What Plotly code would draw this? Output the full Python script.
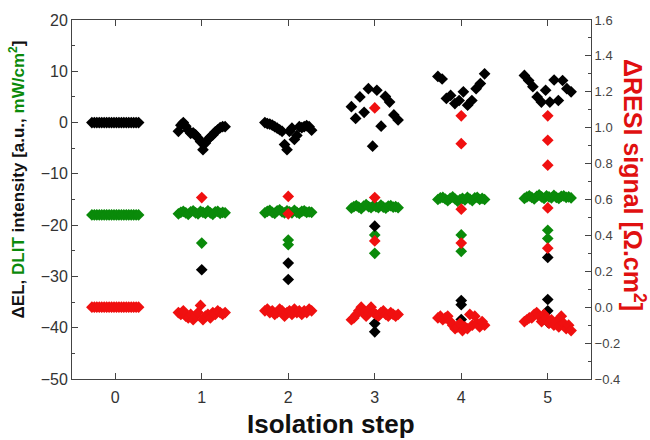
import numpy as np
import plotly.graph_objects as go

steps = [0, 1, 2, 3, 4, 5]

# ΔEL (black, left axis) – main cluster values (left-to-right) and isolated cells
el_main = [
    [0.0] * 20,
    [-1.7, -0.5, 0.0, -0.7, -1.5, -2.1, -2.0, -2.4, -3.0, -3.7, -5.3, -4.0, -3.3, -2.8, -2.4, -1.8, -1.4, -1.0, -0.8, -0.8],
    [0.0, -0.2, -0.3, -0.5, -0.8, -1.1, -1.4, -1.7, -4.3, -5.3, -1.7, -1.1, -3.3, -2.5, -0.8, -1.0, -0.8, -0.6, -0.8, -1.5],
    [3.1, 0.8, 5.0, 2.0, 6.6, -4.6, 6.3, -0.7, 5.1, 4.0, 1.5, 0.5],
    [9.0, 8.5, 4.7, 5.3, 3.7, 4.3, 6.0, 3.4, 4.3, 6.6, 7.6, 9.5],
    [9.2, 8.2, 7.0, 5.0, 4.0, 6.3, 4.0, 8.3, 4.3, 8.2, 6.6, 6.0],
]
el_out = [[], [-28.7], [-27.4, -30.6], [-20.2, -39.2, -40.8], [-34.7, -35.5, -38.4], [-26.3, -34.5, -36.7, -38.9]]

# DLIT (green, left axis)
dlit_main = [
    [-18.0] * 20,
    [-17.8, -17.5, -17.3, -17.6, -17.9, -17.4, -17.2, -17.6, -17.8, -17.3, -17.5, -17.7, -17.2, -17.6, -17.9, -17.4, -17.3, -17.7, -17.5, -17.6],
    [-17.6, -17.3, -17.1, -17.5, -17.7, -17.2, -17.0, -17.4, -17.6, -17.2, -17.4, -17.6, -17.1, -17.5, -17.7, -17.3, -17.2, -17.5, -17.4, -17.5],
    [-16.7, -16.4, -16.2, -16.5, -16.8, -16.3, -16.0, -16.4, -16.6, -16.2, -16.4, -16.6, -16.1, -16.5, -16.7, -16.3, -16.2, -16.5, -16.4, -16.6],
    [-15.0, -14.7, -14.6, -14.9, -15.2, -14.8, -14.5, -14.9, -15.3, -15.0, -14.8, -15.1, -14.6, -14.9, -15.2, -14.7, -14.6, -15.0, -14.8, -15.0],
    [-14.8, -14.5, -14.3, -14.6, -14.9, -14.4, -14.1, -14.5, -14.8, -14.3, -14.5, -14.7, -14.2, -14.6, -14.8, -14.4, -14.3, -14.6, -14.5, -14.7],
]
dlit_out = [[], [-23.5], [-22.9, -23.8], [-21.9, -25.5], [-21.9, -25.1], [-21.0, -22.6]]

# ΔRESI (red, right axis)
resi_main = [
    [0.0] * 20,
    [-0.03, -0.04, -0.02, -0.05, -0.06, -0.04, -0.07, -0.05, -0.03, 0.01, -0.07, -0.05, -0.04, -0.06, -0.03, -0.04, -0.02, -0.03, -0.04, -0.03],
    [-0.02, -0.01, -0.03, -0.02, -0.04, -0.03, -0.01, -0.02, -0.05, -0.03, -0.02, -0.04, -0.01, -0.03, -0.02, -0.04, -0.02, -0.03, -0.01, -0.02],
    [-0.07, -0.06, -0.04, -0.02, 0.0, -0.03, -0.05, -0.02, 0.0, -0.03, -0.04, -0.05, -0.03, -0.02, -0.04, -0.05, -0.03, -0.04, -0.05, -0.04],
    [-0.06, -0.05, -0.07, -0.06, -0.05, -0.08, -0.10, -0.12, -0.11, -0.09, -0.13, -0.11, -0.12, -0.04, -0.10, -0.05, -0.09, -0.11, -0.08, -0.10],
    [-0.08, -0.07, -0.06, -0.06, -0.04, -0.03, -0.05, -0.08, -0.04, -0.06, -0.09, -0.07, -0.10, -0.08, -0.11, -0.05, -0.09, -0.12, -0.10, -0.13],
]
resi_out = [[], [0.611], [0.617, 0.52], [1.11, 0.611, 0.369], [1.066, 0.911, 0.546, 0.357], [1.066, 0.93, 0.791, 0.553, 0.329]]

SPREAD = 0.27


def build(main, out):
    xs, ys = [], []
    for s, vals, extra in zip(steps, main, out):
        n = len(vals)
        offs = np.linspace(-SPREAD, SPREAD, n) if n > 1 else np.zeros(n)
        xs.extend(list(s + offs))
        ys.extend(vals)
        xs.extend([s] * len(extra))
        ys.extend(extra)
    return xs, ys


fig = go.Figure()
mk = dict(symbol="diamond", size=9, line=dict(width=0))

x, y = build(dlit_main, dlit_out)
fig.add_trace(go.Scatter(x=x, y=y, mode="markers", marker=dict(color="#0a8a0a", **mk), name="DLIT"))
x, y = build(resi_main, resi_out)
fig.add_trace(go.Scatter(x=x, y=y, mode="markers", marker=dict(color="#f01010", **mk), name="ΔRESI", yaxis="y2"))
x, y = build(el_main, el_out)
fig.add_trace(go.Scatter(x=x, y=y, mode="markers", marker=dict(color="black", **mk), name="ΔEL"))

axcol = "#444"
font = "Liberation Sans, Arial, sans-serif"

fig.update_layout(
    width=650, height=440,
    margin=dict(l=72, r=59, t=15, b=61),
    paper_bgcolor="white", plot_bgcolor="white",
    showlegend=False,
    font=dict(family=font, color="#333"),
    xaxis=dict(
        range=[-0.5, 5.5], tickvals=steps, ticks="inside", ticklen=6, tickcolor=axcol,
        showline=True, linecolor=axcol, linewidth=1, mirror="ticks", ticklabelstandoff=4,
        showgrid=False, zeroline=False, tickfont=dict(size=16, color="#333"),
    ),
    yaxis=dict(
        range=[-50, 20], dtick=10, ticks="inside", ticklen=6, tickcolor=axcol,
        minor=dict(ticks="inside", ticklen=3, dtick=5, tickcolor=axcol),
        showline=True, linecolor=axcol, linewidth=1,
        showgrid=False, zeroline=False, tickfont=dict(size=16, color="#333"),
    ),
    yaxis2=dict(
        range=[-0.4, 1.6], dtick=0.2, tickformat=".1f", overlaying="y", side="right",
        ticks="inside", ticklen=6, tickcolor=axcol,
        minor=dict(ticks="inside", ticklen=3, dtick=0.1, tickcolor=axcol),
        showline=True, linecolor=axcol, linewidth=1,
        showgrid=False, zeroline=False, tickfont=dict(size=13, color="#444"),
    ),
    annotations=[
        dict(text="<b>Isolation step</b>", xref="paper", yref="paper", x=0.499, y=-0.126,
             xanchor="center", yanchor="middle", showarrow=False,
             font=dict(size=26, color="#111", family=font)),
        dict(text="<b>ΔEL, <span style='color:#0a8a0a'>DLIT</span> intensity [a.u., "
                  "<span style='color:#0a8a0a'>mW/cm<sup>2</sup></span>]</b>",
             xref="paper", yref="paper", x=-0.106, y=0.556, textangle=-90,
             xanchor="center", yanchor="middle", showarrow=False,
             font=dict(size=17, color="#111", family=font)),
        dict(text="<b>ΔRESI signal [Ω.cm<sup>2</sup>]</b>",
             xref="paper", yref="paper", x=1.083, y=0.54, textangle=90,
             xanchor="center", yanchor="middle", showarrow=False,
             font=dict(size=25, color="#e01010", family=font)),
    ],
)

fig.write_html("out.html", config={"displayModeBar": False},
               post_script="document.body.style.margin='0';document.body.style.overflow='hidden';")
